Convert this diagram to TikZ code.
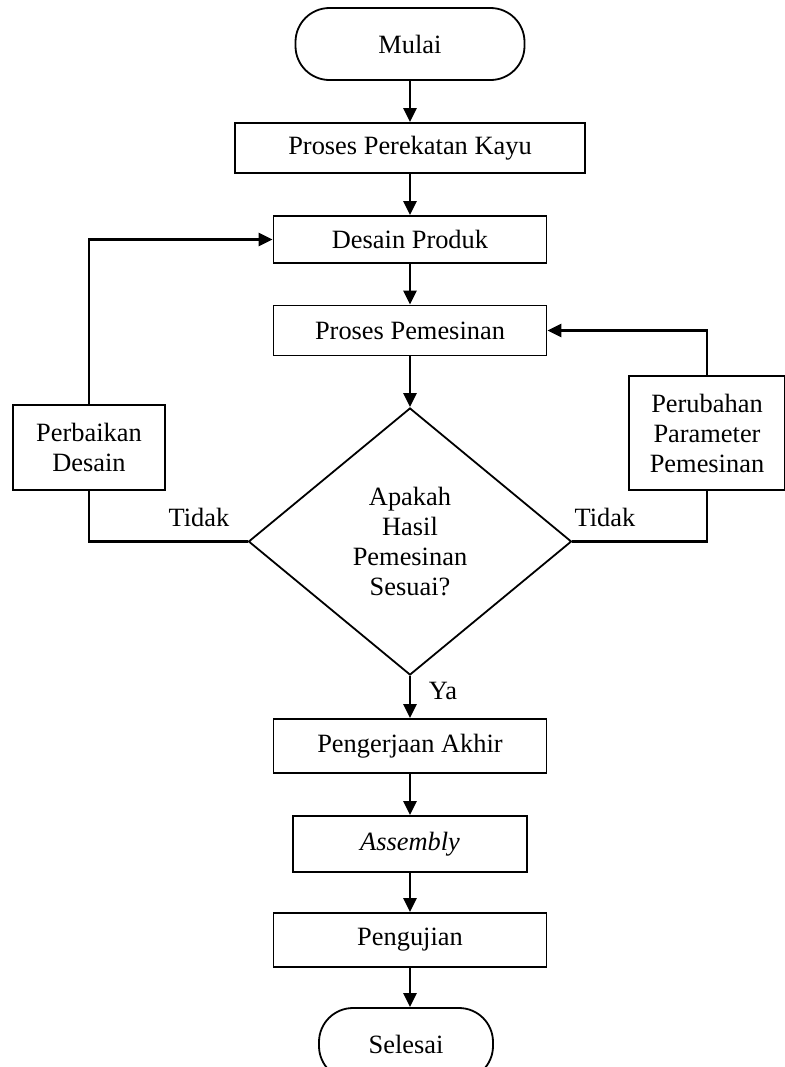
\documentclass[tikz,border=0pt]{standalone}
\usepackage{fontspec}
\setmainfont{Liberation Serif}
\usetikzlibrary{shapes.geometric, arrows.meta, positioning}

\begin{document}
\begin{tikzpicture}[
        x=0.5pt, y=-0.5pt,
        font=\fontsize{13.2}{15}\selectfont,
        terminal/.style={
            rectangle,
            draw=black,
            line width=0.9pt,
            rounded corners=17pt,
            minimum width=114.5pt,
            minimum height=36pt
        },
        proses/.style={
            rectangle,
            draw=black,
            line width=0.9pt,
            minimum width=136.5pt,
            minimum height=25pt,
            align=center
        },
        keputusan/.style={
            diamond,
            draw=black,
            line width=0.9pt,
            minimum width=161.5pt,
            minimum height=133.5pt,
            inner sep=0pt,
            align=center
        },
        alur/.style={
            line width=1.2pt,
            -{Triangle[width=6.5pt,length=7pt]}
        },
        garis/.style={
            line width=1.2pt
        }
    ]
        \clip (0,0) rectangle (785,1067);

        % Main column
        \node[terminal] (mulai) at (410, 44) {Mulai};
        \node[proses, minimum width=175pt] (perekatan) at (410, 148) {Proses Perekatan Kayu};
        \node[proses, minimum height=23.5pt] (desain) at (410, 239.5) {Desain Produk};
        \node[proses] (pemesinan) at (410, 330.5) {Proses Pemesinan};
        \node[keputusan] (cek) at (410, 541.5) {Apakah\\Hasil\\Pemesinan\\Sesuai?};
        \node[proses, minimum height=27pt] (akhir) at (410, 746) {Pengerjaan Akhir};
        \node[proses, minimum width=117pt, minimum height=28pt] (assembly) at (410, 844) {\itshape Assembly};
        \node[proses, minimum height=27pt] (pengujian) at (410, 940) {Pengujian};
        \node[terminal, minimum width=87pt] (selesai) at (406, 1044) {Selesai};

        % Side boxes
        \node[proses, minimum width=76pt, minimum height=42.5pt] (perbaikan) at (89, 447.5) {Perbaikan\\Desain};
        \node[proses, minimum width=78pt, minimum height=57pt] (perubahan) at (707, 433) {Perubahan\\Parameter\\Pemesinan};

        % Connections
        \draw[alur] (mulai) -- (perekatan);
        \draw[alur] (perekatan) -- (desain);
        \draw[alur] (desain) -- (pemesinan);
        \draw[alur] (pemesinan) -- (cek);
        \draw[alur] (cek) -- (akhir);
        \draw[alur] (akhir) -- (assembly);
        \draw[alur] (assembly) -- (pengujian);
        \draw[alur] (pengujian) -- (pengujian |- selesai.north);

        % Loops
        \draw[garis] (cek.west) -| (perbaikan.south);
        \draw[alur] (perbaikan.north) |- (desain.west);
        \draw[garis] (cek.east) -| (perubahan.south);
        \draw[alur] (perubahan.north) |- (pemesinan.east);

        % Labels
        \node (tidakkiri) at (199, 517) {Tidak};
        \node (tidakkanan) at (605, 517) {Tidak};
        \node (ya) at (443, 691) {Ya};

    \end{tikzpicture}
\end{document}
